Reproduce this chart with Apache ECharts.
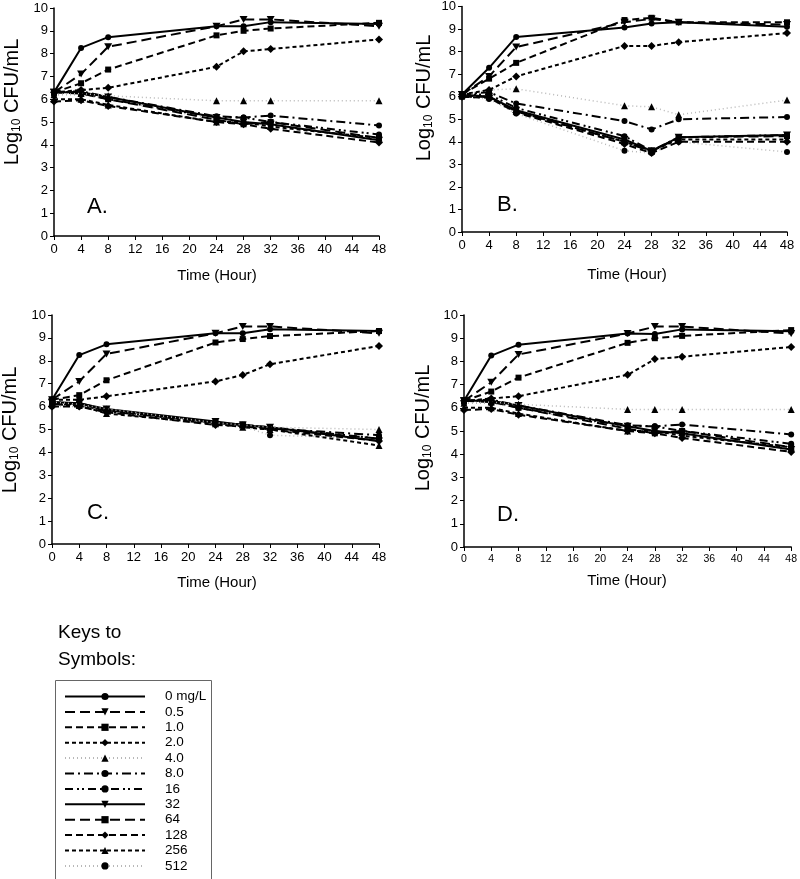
<!DOCTYPE html>
<html>
<head>
<meta charset="utf-8">
<script src="https://cdn.jsdelivr.net/npm/echarts@6/dist/echarts.min.js"></script>
<style>
html,body{margin:0;padding:0;background:#fff;}
#chart{width:800px;height:879px;}
</style>
</head>
<body>
<div id="chart"></div>
<script>
// ---------- DATA ----------
const hours = [0, 4, 8, 24, 28, 32, 48];
const concentrations = ['0 mg/L', '0.5', '1.0', '2.0', '4.0', '8.0', '16', '32', '64', '128', '256', '512'];
const panelLetters = ['A.', 'B.', 'C.', 'D.'];
const xTicks = [0, 4, 8, 12, 16, 20, 24, 28, 32, 36, 40, 44, 48];
const yTicks = [0, 1, 2, 3, 4, 5, 6, 7, 8, 9, 10];

// rows follow concentrations order
const panelA = [
  [6.3, 8.25, 8.72, 9.2, 9.2, 9.38, 9.3],
  [6.3, 7.1, 8.3, 9.2, 9.5, 9.5, 9.2],
  [6.3, 6.7, 7.3, 8.8, 9.0, 9.1, 9.35],
  [6.3, 6.4, 6.5, 7.42, 8.1, 8.2, 8.62],
  [6.2, 6.25, 6.15, 5.93, 5.93, 5.93, 5.93],
  [6.3, 6.35, 6.1, 5.25, 5.2, 5.28, 4.85],
  [6.3, 6.3, 6.0, 5.2, 5.2, 5.0, 4.45],
  [6.3, 6.3, 6.1, 5.2, 5.0, 4.9, 4.2],
  [6.3, 6.25, 6.0, 5.1, 4.9, 5.0, 4.3],
  [5.9, 5.95, 5.7, 5.0, 4.9, 4.7, 4.1],
  [6.0, 6.0, 5.75, 5.0, 5.0, 4.8, 4.3],
  [6.2, 6.2, 6.0, 5.1, 4.95, 4.85, 4.25]
];
const panelB = [
  [6.1, 7.28, 8.65, 9.07, 9.25, 9.3, 9.1],
  [6.1, 6.9, 8.2, 9.3, 9.45, 9.3, 9.2],
  [6.1, 6.8, 7.5, 9.4, 9.5, 9.3, 9.3],
  [6.1, 6.3, 6.9, 8.25, 8.25, 8.42, 8.82],
  [6.1, 6.3, 6.35, 5.6, 5.55, 5.2, 5.85],
  [6.1, 6.2, 5.7, 4.92, 4.55, 5.0, 5.1],
  [6.1, 6.1, 5.5, 4.25, 3.6, 4.2, 4.3],
  [6.1, 6.0, 5.4, 4.1, 3.6, 4.2, 4.3],
  [6.0, 6.0, 5.35, 4.0, 3.55, 4.2, 4.25],
  [6.0, 5.95, 5.3, 3.9, 3.5, 4.0, 4.0],
  [6.05, 6.0, 5.35, 4.0, 3.6, 4.1, 4.1],
  [6.0, 5.9, 5.25, 3.6, 3.5, 4.0, 3.55]
];
const panelC = [
  [6.3, 8.25, 8.72, 9.2, 9.2, 9.38, 9.3],
  [6.3, 7.1, 8.3, 9.2, 9.5, 9.5, 9.2],
  [6.3, 6.5, 7.15, 8.8, 8.95, 9.08, 9.3],
  [6.3, 6.3, 6.45, 7.1, 7.38, 7.85, 8.65],
  [6.2, 6.1, 5.9, 5.3, 5.2, 5.1, 5.0],
  [6.2, 6.1, 5.85, 5.3, 5.2, 5.05, 4.75],
  [6.1, 6.1, 5.8, 5.3, 5.2, 5.1, 4.6],
  [6.2, 6.15, 5.9, 5.35, 5.2, 5.1, 4.5],
  [6.15, 6.15, 5.85, 5.3, 5.22, 5.05, 4.6],
  [6.0, 6.0, 5.75, 5.2, 5.15, 5.0, 4.5],
  [6.1, 6.05, 5.7, 5.25, 5.1, 5.0, 4.3],
  [6.0, 6.0, 5.8, 5.3, 5.15, 4.75, 4.6]
];
const panelD = [
  [6.3, 8.25, 8.72, 9.2, 9.18, 9.38, 9.3],
  [6.3, 7.1, 8.3, 9.2, 9.5, 9.5, 9.2],
  [6.3, 6.7, 7.3, 8.8, 9.0, 9.1, 9.35],
  [6.3, 6.4, 6.5, 7.42, 8.1, 8.2, 8.62],
  [6.2, 6.25, 6.15, 5.93, 5.93, 5.93, 5.93],
  [6.3, 6.35, 6.1, 5.25, 5.2, 5.28, 4.85],
  [6.3, 6.3, 6.0, 5.2, 5.2, 5.0, 4.45],
  [6.3, 6.3, 6.1, 5.2, 5.0, 4.9, 4.2],
  [6.3, 6.25, 6.0, 5.1, 4.9, 5.0, 4.3],
  [5.9, 5.95, 5.7, 5.0, 4.9, 4.7, 4.1],
  [6.0, 6.0, 5.75, 5.0, 5.0, 4.8, 4.3],
  [6.2, 6.2, 6.0, 5.1, 4.95, 4.85, 4.25]
];
const panels = [panelA, panelB, panelC, panelD];

// ---------- STYLES ----------
const FONT = '"Liberation Sans", Arial, sans-serif';
const downTri = 'path://M0,0L10,0L5,9Z';
const styles = [
  {symbol: 'circle', type: 'solid', color: '#000', w: 2},
  {symbol: downTri, type: [10, 5], color: '#000', w: 2},
  {symbol: 'rect', type: [7, 4], color: '#000', w: 2},
  {symbol: 'diamond', type: [4, 3], color: '#000', w: 2},
  {symbol: 'triangle', type: [1, 3], color: '#b8b8b8', w: 1.5},
  {symbol: 'circle', type: [9, 4, 2, 4], color: '#000', w: 2},
  {symbol: 'circle', type: [8, 4, 2, 3, 2, 4], color: '#000', w: 2},
  {symbol: downTri, type: 'solid', color: '#000', w: 2},
  {symbol: 'rect', type: [10, 5], color: '#000', w: 2},
  {symbol: 'diamond', type: [7, 4], color: '#000', w: 2},
  {symbol: 'triangle', type: [4, 3], color: '#000', w: 2},
  {symbol: 'circle', type: [1, 3], color: '#b8b8b8', w: 1.5}
];
const symSizes = {circle: 6, rect: 6, diamond: 8, triangle: 7};

const grids = [
  {left: 54, top: 8, width: 325, height: 228},
  {left: 462, top: 5, width: 325, height: 227},
  {left: 52, top: 315, width: 327, height: 229},
  {left: 464, top: 315, width: 330, height: 232}
];

const xAxes = grids.map((g, i) => ({
  gridIndex: i, type: 'value', min: 0, max: 48, interval: 4,
  axisLine: {lineStyle: {color: '#000', width: 1.5}},
  axisTick: {show: true, length: 4, lineStyle: {color: '#000', width: 1}},
  splitLine: {show: false},
  axisLabel: {color: '#000', fontFamily: FONT, fontSize: i === 3 ? 10.5 : 13, margin: 7,
    formatter: v => xTicks.indexOf(v) >= 0 ? String(v) : ''}
}));
const yAxes = grids.map((g, i) => ({
  gridIndex: i, type: 'value', min: 0, max: 10, interval: 1,
  axisLine: {show: true, lineStyle: {color: '#000', width: 1.5}},
  axisTick: {show: true, length: 4, lineStyle: {color: '#000', width: 1}},
  splitLine: {show: false},
  axisLabel: {color: '#000', fontFamily: FONT, fontSize: 13, margin: 6,
    formatter: v => yTicks.indexOf(v) >= 0 ? String(v) : ''}
}));

const series = [];
panels.forEach((panel, pi) => {
  panel.forEach((vals, si) => {
    const st = styles[si];
    const sz = typeof st.symbol === 'string' && symSizes[st.symbol] ? symSizes[st.symbol] : 7;
    series.push({
      name: concentrations[si],
      type: 'line',
      xAxisIndex: pi, yAxisIndex: pi,
      data: hours.map((h, k) => [h, vals[k]]),
      symbol: st.symbol,
      symbolSize: st.symbol === downTri ? [8, 7] : sz,
      showSymbol: true,
      lineStyle: {color: st.color, width: st.w, type: st.type},
      itemStyle: {color: '#000'},
      animation: false,
      z: 2 + (11 - si) * 0.01
    });
  });
});

// titles & labels
const yTitlePos = [[12, 102], [424, 98], [10, 430], [423, 428]];
const xTitlePos = [[217, 276], [627, 275], [217, 583], [627, 581]];
const letterPos = [[87, 207], [497, 205], [87, 513], [497, 515]];
const graphics = [];
for (let i = 0; i < 4; i++) {
  graphics.push({
    type: 'text', x: yTitlePos[i][0], y: yTitlePos[i][1], rotation: Math.PI / 2,
    style: {
      text: '{a|Log}{s|10}{a| CFU/mL}',
      align: 'center', verticalAlign: 'middle',
      rich: {
        a: {fontSize: 20, fontFamily: FONT, fill: '#000', lineHeight: 24},
        s: {fontSize: 12, fontFamily: FONT, fill: '#000', lineHeight: 24, padding: [10, 0, 0, 0]}
      }
    }
  });
  graphics.push({
    type: 'text', x: xTitlePos[i][0], y: xTitlePos[i][1],
    style: {text: 'Time (Hour)', fontSize: 15, fontFamily: FONT, fill: '#000', align: 'center', verticalAlign: 'middle'}
  });
  graphics.push({
    type: 'text', x: letterPos[i][0], y: letterPos[i][1],
    style: {text: panelLetters[i], fontSize: 22, fontFamily: FONT, fill: '#000', align: 'left', verticalAlign: 'middle'}
  });
}
graphics.push({
  type: 'text', x: 58, y: 646,
  style: {text: 'Keys to\nSymbols:', fontSize: 19, lineHeight: 27, fontFamily: FONT, fill: '#000', align: 'left', verticalAlign: 'middle'}
});
graphics.push({
  type: 'rect', shape: {x: 55.5, y: 680.5, width: 156, height: 230},
  style: {fill: 'none', stroke: '#666', lineWidth: 1}
});

const chart = echarts.init(document.getElementById('chart'), null, {renderer: 'canvas'});
chart.setOption({
  backgroundColor: '#fff',
  animation: false,
  grid: grids,
  xAxis: xAxes,
  yAxis: yAxes,
  series: series,
  graphic: graphics,
  legend: {
    data: concentrations,
    orient: 'vertical',
    left: 64, top: 689,
    padding: 0,
    height: 400,
    itemWidth: 80, itemHeight: 9,
    itemGap: 0.4,
    selectedMode: false,
    textStyle: {fontSize: 13.5, fontFamily: FONT, color: '#000', lineHeight: 15, padding: [0, 0, 0, 15]}
  }
});
</script>
</body>
</html>
